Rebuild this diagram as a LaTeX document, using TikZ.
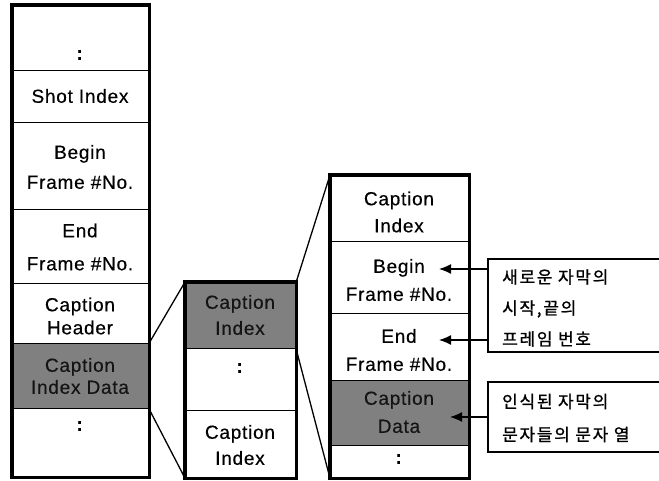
\documentclass[tikz,border=0pt]{standalone}
\usepackage{fontspec}
\setmainfont[LetterSpace=4,FakeBold=0.4]{Liberation Sans}
\newfontfamily\kr[LetterSpace=10,FakeBold=1]{Noto Sans CJK KR}
\usetikzlibrary{arrows.meta}
\begin{document}
\begin{tikzpicture}[x=1pt,y=-1pt,
  cell/.style={draw=black, line width=1.2pt, inner sep=0pt, anchor=north west},
  shade/.style={cell, fill=black!50},
  lbl/.style={inner sep=0pt, align=center, font=\fontsize{19}{27}\selectfont},
  dim/.style={lbl, text=black!92},
  outer/.style={draw=black, line width=3.4pt},
  link/.style={draw=black, line width=1.3pt},
  callout/.style={draw=black, line width=1.3pt},
  krtext/.style={inner sep=0pt, anchor=west, align=left, font=\kr\fontsize{17}{31}\selectfont},
  pointer/.style={draw=black, line width=1.3pt, -{Latex[length=12pt,width=10pt]}}
]
\useasboundingbox (0,0) rectangle (659,481);

% ---------- left column ----------
\node[cell, minimum width=136pt, minimum height=65pt] (L1) at (12,5) {};
\node[cell, minimum width=136pt, minimum height=52pt] (L2) at (12,70) {};
\node[cell, minimum width=136pt, minimum height=87pt] (L3) at (12,122) {};
\node[cell, minimum width=136pt, minimum height=74pt] (L4) at (12,209) {};
\node[cell, minimum width=136pt, minimum height=60pt] (L5) at (12,283) {};
\node[shade, minimum width=136pt, minimum height=65pt] (L6) at (12,343) {};
\node[cell, minimum width=136pt, minimum height=68pt] (L7) at (12,408) {};
\draw[outer] (L1.north west) rectangle (L7.south east);

\node[lbl] (tL1) at (80,55) {\textbf{:}};
\node[lbl] (tL2) at (80,96) {Shot Index};
\node[lbl, font=\fontsize{19}{30}\selectfont] (tL3) at (80,167) {Begin\\Frame \#No.};
\node[lbl, font=\fontsize{19}{33}\selectfont] (tL4) at (80,247) {End\\Frame \#No.};
\node[lbl, font=\fontsize{19}{23}\selectfont] (tL5) at (80,316) {Caption\\Header};
\node[dim, font=\fontsize{19}{22}\selectfont] (tL6) at (80,376) {Caption\\Index Data};
\node[lbl] (tL7) at (80,426) {\textbf{:}};

% ---------- middle column ----------
\node[shade, minimum width=110pt, minimum height=66pt] (M1) at (185,282) {};
\node[cell, minimum width=110pt, minimum height=62pt] (M2) at (185,348) {};
\node[cell, minimum width=110pt, minimum height=67pt] (M3) at (185,410) {};
\draw[outer] (M1.north west) rectangle (M3.south east);

\node[dim, font=\fontsize{19}{26}\selectfont] (tM1) at (240,315) {Caption\\Index};
\node[lbl] (tM2) at (240,368) {\textbf{:}};
\node[lbl, font=\fontsize{19}{26}\selectfont] (tM3) at (240,445) {Caption\\Index};

% ---------- right column ----------
\node[cell, minimum width=138pt, minimum height=66pt] (R1) at (330,175) {};
\node[cell, minimum width=138pt, minimum height=72pt] (R2) at (330,241) {};
\node[cell, minimum width=138pt, minimum height=67pt] (R3) at (330,313) {};
\node[shade, minimum width=138pt, minimum height=65pt] (R4) at (330,380) {};
\node[cell, minimum width=138pt, minimum height=32pt] (R5) at (330,445) {};
\draw[outer] (R1.north west) rectangle (R5.south east);

\node[lbl, font=\fontsize{19}{27}\selectfont] (tR1) at (399,212) {Caption\\Index};
\node[lbl, font=\fontsize{19}{28}\selectfont] (tR2) at (399,280) {Begin\\Frame \#No.};
\node[lbl, font=\fontsize{19}{28}\selectfont] (tR3) at (399,350) {End\\Frame \#No.};
\node[dim, font=\fontsize{19}{28}\selectfont] (tR4) at (399,412) {Caption\\Data};
\node[lbl] (tR5) at (399,459) {\textbf{:}};

% ---------- zoom connectors ----------
\draw[link] (L6.north east) -- (M1.north west);
\draw[link] (L6.south east) -- (M3.south west);
\draw[link] (M1.north east) -- (R1.north west);
\draw[link] (M1.south east) -- (R5.south west);

% ---------- callouts ----------
\coordinate (C1nw) at (488,259);
\coordinate (C1sw) at (488,352);
\draw[callout] (659,259) -- (C1nw) -- (C1sw) -- (659,352);
\node[krtext] (K1) at (502,308) {새로운 자막의\\시작,끝의\\프레임 번호};

\coordinate (C2nw) at (488,382);
\coordinate (C2sw) at (488,452);
\draw[callout] (659,382) -- (C2nw) -- (C2sw) -- (659,452);
\node[krtext, font=\kr\fontsize{17}{33}\selectfont] (K2) at (502,418) {인식된 자막의\\문자들의 문자 열};

% ---------- arrows ----------
\coordinate (A1s) at (488,269);
\coordinate (A1e) at (439,269);
\coordinate (A2s) at (488,340);
\coordinate (A2e) at (439,340);
\coordinate (A3s) at (488,417);
\coordinate (A3e) at (450,417);
\draw[pointer] (A1s) -- (A1e);
\draw[pointer] (A2s) -- (A2e);
\draw[pointer] (A3s) -- (A3e);
\end{tikzpicture}
\end{document}
